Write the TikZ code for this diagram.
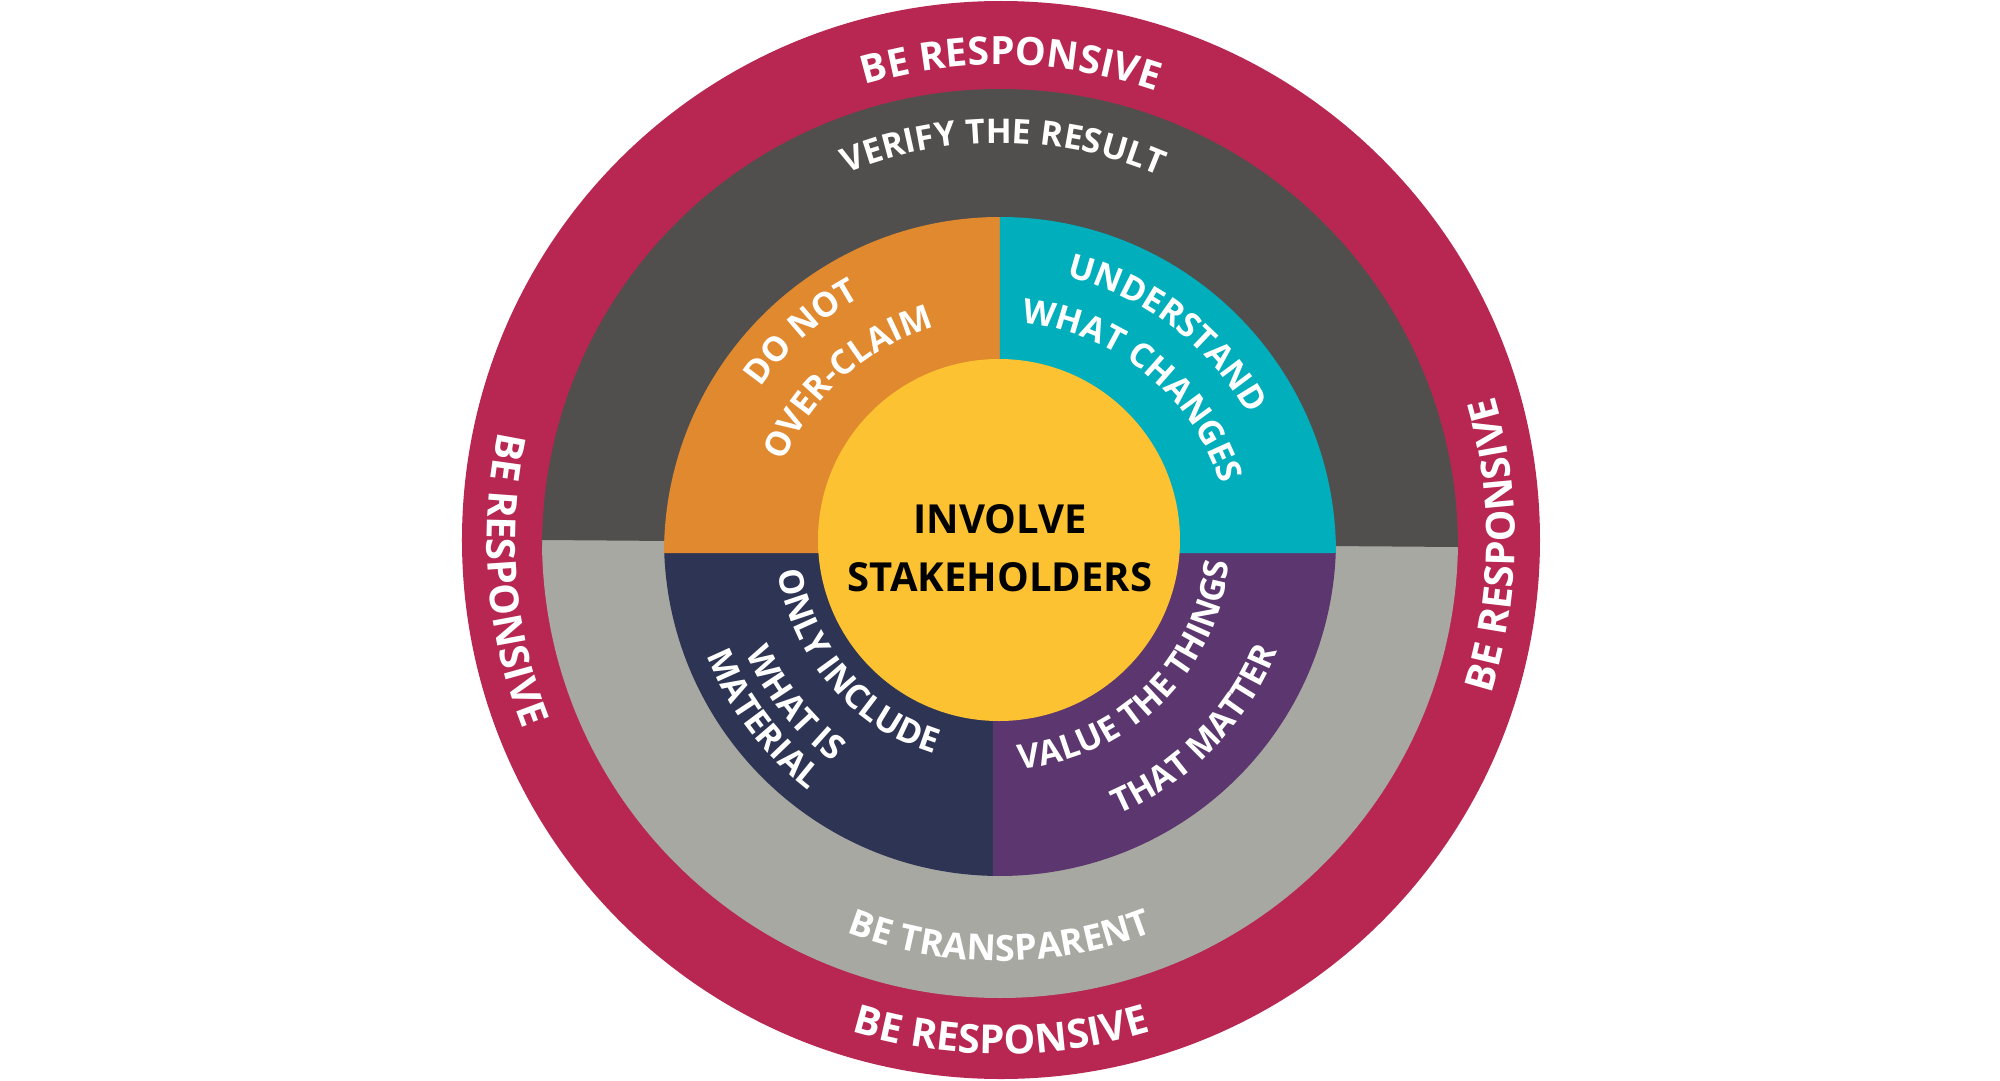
\documentclass[tikz,border=0pt]{standalone}
\usepackage{fontspec}
\setmainfont{Open Sans}
\usetikzlibrary{decorations.text}
\definecolor{crim}{RGB}{184,38,82}
\definecolor{dgrey}{RGB}{81,79,77}
\definecolor{lgrey}{RGB}{167,168,162}
\definecolor{qorange}{RGB}{225,137,46}
\definecolor{qteal}{RGB}{0,174,188}
\definecolor{qnavy}{RGB}{46,52,83}
\definecolor{qpurple}{RGB}{92,54,110}
\definecolor{qyellow}{RGB}{252,194,50}
\newcommand\ringfont{\fontsize{40}{40}\selectfont\bfseries}
\newcommand\topringfont{\fontsize{39}{39}\selectfont\bfseries}
\newcommand\verifyfont{\fontsize{34}{34}\selectfont\bfseries}
\newcommand\midringfont{\fontsize{36}{36}\selectfont\bfseries}
\newcommand\quadfont{\fontsize{34}{34}\selectfont\bfseries}
\tikzset{
  curved/.style={decorate, decoration={text along path, text align=center, text color=white, text={#1}}},
  centretext/.style={anchor=base, font=\fontsize{40}{40}\selectfont\bfseries, text=black, inner sep=0pt},
}
\begin{document}
\begin{tikzpicture}[x=1pt,y=1pt]
\useasboundingbox (-1000,-540) rectangle (1000,540);
\fill[white] (-1000,-540) rectangle (1000,540);
% outer ring
\fill[crim] (1,0) circle[radius=539pt];
% grey ring
\fill[lgrey] (-458,0) arc[start angle=180, end angle=360, radius=458pt] -- cycle;
\fill[dgrey] (458,-7) arc[start angle=0, end angle=180, radius=458pt] -- (-458,0) -- cycle;
% lower quadrants
\fill[qnavy] (-7,0) -- (-336,0) arc[start angle=180, end angle=268.8, radius=336pt] -- cycle;
\fill[qpurple] (-7,0) -- (-7,-335.9) arc[start angle=268.8, end angle=360, radius=336pt] -- cycle;
% upper quadrants
\fill[qorange] (0,-13) -- (-336,-13) arc[start angle=180, end angle=90, radius=336pt] -- cycle;
\fill[qteal] (0,-13) -- (0,323) arc[start angle=90, end angle=0, radius=336pt] -- cycle;
% centre
\fill[qyellow] (-1,0) circle[radius=181pt];
\node[centretext] (involve) at (0,7) {INVOLVE};
\node[centretext] (stake) at (0,-51) {STAKEHOLDERS};
% outer ring texts
\path[curved={|\topringfont|BE RESPONSIVE}] (1,0) ++(138.8:475pt) arc[start angle=138.8, end angle=38.8, radius=475pt];
\path[curved={|\ringfont|BE RESPONSIVE}] (1,0) ++(220:514pt) arc[start angle=220, end angle=320, radius=514pt];
\path[curved={|\ringfont|BE RESPONSIVE}] (1,0) ++(134.7:514pt) arc[start angle=134.7, end angle=234.7, radius=514pt];
\path[curved={|\ringfont|BE RESPONSIVE}] (1,0) ++(309.4:514pt) arc[start angle=309.4, end angle=409.4, radius=514pt];
% grey ring texts
\path[curved={|\verifyfont|VERIFY THE RESULT}] (0,-7) ++(149.5:404pt) arc[start angle=149.5, end angle=29.5, radius=404pt];
\path[curved={|\midringfont|BE TRANSPARENT}] (0,0) ++(210:421pt) arc[start angle=210, end angle=330, radius=421pt];
% quadrant texts
\path[curved={|\quadfont|DO NOT}] (0,-13) ++(192:291pt) arc[start angle=192, end angle=72, radius=291pt];
\path[curved={|\quadfont|OVER-CLAIM}] (0,-13) ++(191.6:235pt) arc[start angle=191.6, end angle=71.6, radius=235pt];
\path[curved={|\quadfont|UNDERSTAND}] (0,-13) ++(112.7:284pt) arc[start angle=112.7, end angle=-7.3, radius=284pt];
\path[curved={|\quadfont|WHAT CHANGES}] (0,-13) ++(111:231pt) arc[start angle=111, end angle=-9, radius=231pt];
\path[curved={|\quadfont|ONLY INCLUDE}] (0,0) ++(160.5:224pt) arc[start angle=160.5, end angle=280.5, radius=224pt];
\path[curved={|\quadfont|WHAT IS}] (0,0) ++(158.5:278pt) arc[start angle=158.5, end angle=278.5, radius=278pt];
\path[curved={|\quadfont|MATERIAL}] (0,0) ++(157:315pt) arc[start angle=157, end angle=277, radius=315pt];
\path[curved={|\quadfont|VALUE THE THINGS}] (0,0) ++(254.8:230pt) arc[start angle=254.8, end angle=374.8, radius=230pt];
\path[curved={|\quadfont|THAT MATTER}] (0,0) ++(255.7:299pt) arc[start angle=255.7, end angle=375.7, radius=299pt];
\end{tikzpicture}
\end{document}
